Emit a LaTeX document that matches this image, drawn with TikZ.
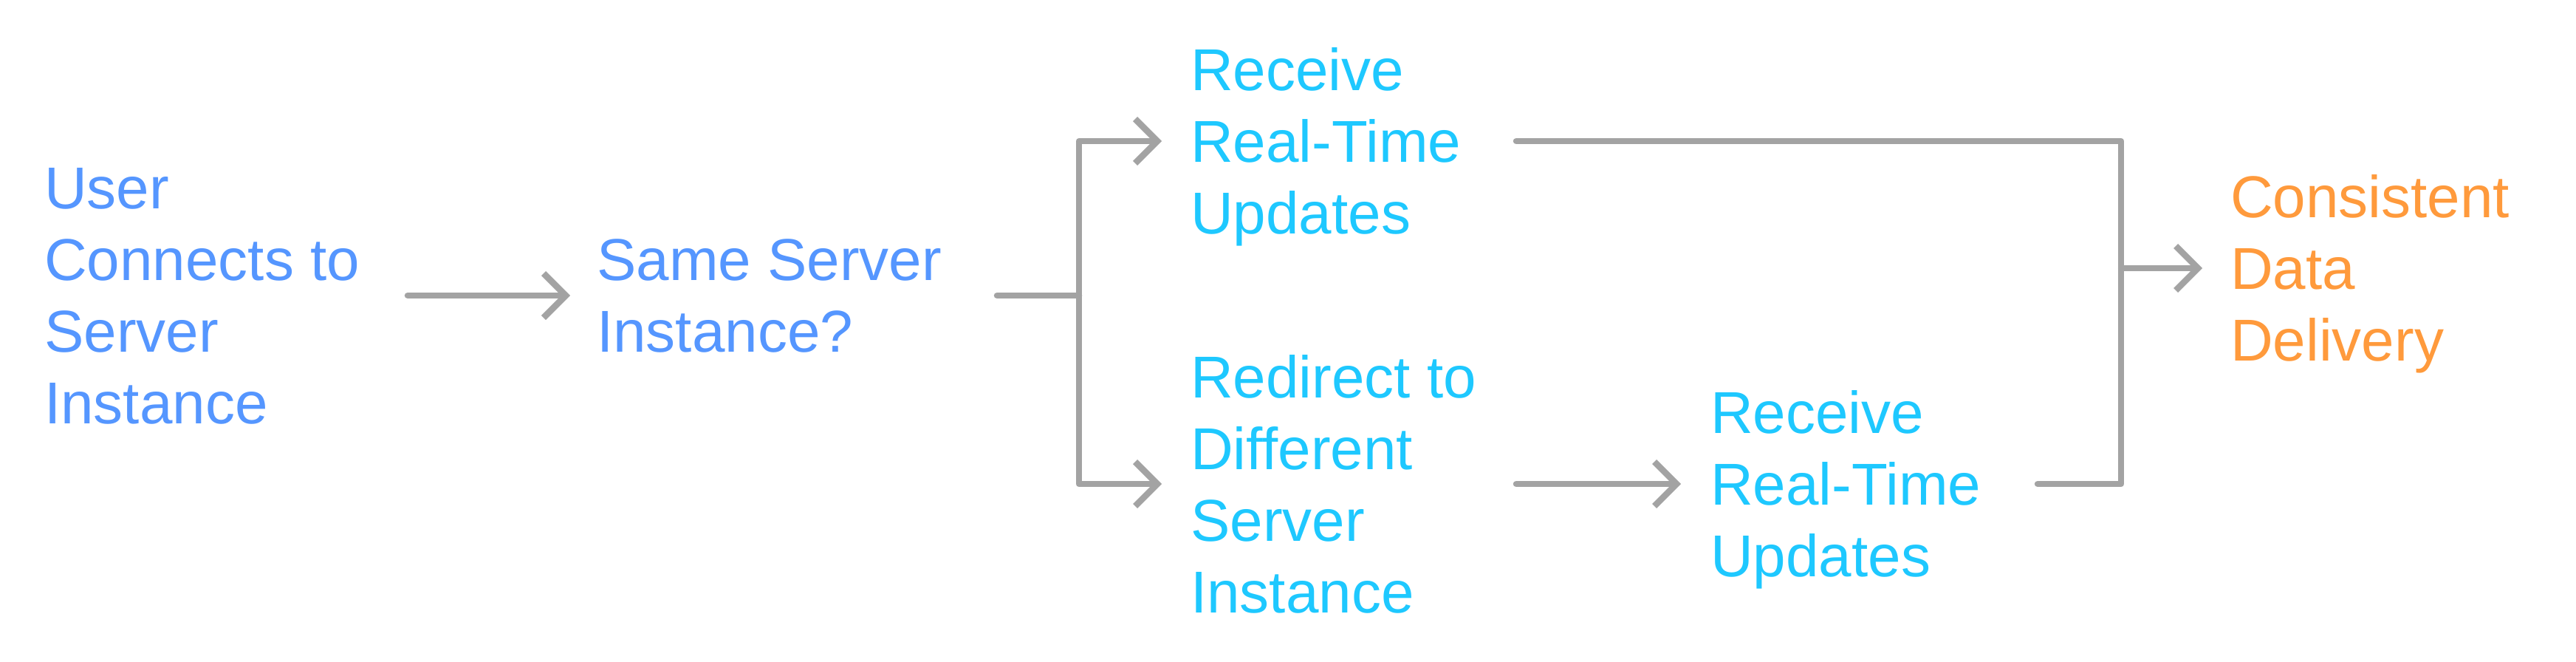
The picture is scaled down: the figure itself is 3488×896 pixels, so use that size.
\documentclass[tikz,border=0pt]{standalone}
\usepackage{fontspec}
\setmainfont{Liberation Sans}
\usetikzlibrary{arrows.meta}

\definecolor{stepblue}{HTML}{5596FF}
\definecolor{stepcyan}{HTML}{1EC8FF}
\definecolor{steporange}{HTML}{FF9A3C}
\definecolor{linkgray}{HTML}{A3A3A3}

\begin{document}
\begin{tikzpicture}[x=1pt, y=-1pt, line cap=round, line join=round,
  stage/.style={anchor=west, align=left, inner sep=0pt, text depth=0pt,
    font=\fontsize{80}{97}\selectfont},
  link/.style={draw=linkgray, line width=8.5pt},
  flow/.style={link, -{Straight Barb[length=30pt, width=60pt]}}]
  \useasboundingbox (0,0) rectangle (3488,896);

  % Steps
  \node[stage, text=stepblue] (user) at (60,400) {User\\Connects to\\Server\\Instance};
  \node[stage, text=stepblue] (same) at (808,400) {Same Server\\Instance?};
  \node[stage, text=stepcyan] (recvA) at (1612,191) {Receive\\Real-Time\\Updates};
  \node[stage, text=stepcyan] (redirect) at (1612,655) {Redirect to\\Different\\Server\\Instance};
  \node[stage, text=stepcyan] (recvB) at (2316,655) {Receive\\Real-Time\\Updates};
  \node[stage, text=steporange] (result) at (3020,363) {Consistent\\Data\\Delivery};

  % Line ends and corners
  \coordinate (userout) at (552,400);
  \coordinate (sameout) at (1350,400);
  \coordinate (fork) at (1461,400);
  \coordinate (recvAout) at (2053,191);
  \coordinate (redirout) at (2053,655);
  \coordinate (recvBout) at (2759,655);
  \coordinate (merge) at (2872,363);

  % Connectors
  \draw[flow] (userout) -- ([xshift=-36pt]same.west);
  \draw[link] (sameout) -- (fork);
  \draw[flow] (fork) |- ([xshift=-39pt]recvA.west);
  \draw[flow] (fork) |- ([xshift=-39pt]redirect.west);
  \draw[flow] (redirout) -- ([xshift=-40pt]recvB.west);
  \draw[link] (recvAout) -| (merge) |- (recvBout);
  \draw[flow] (merge) -- ([xshift=-38pt]result.west);
\end{tikzpicture}
\end{document}
